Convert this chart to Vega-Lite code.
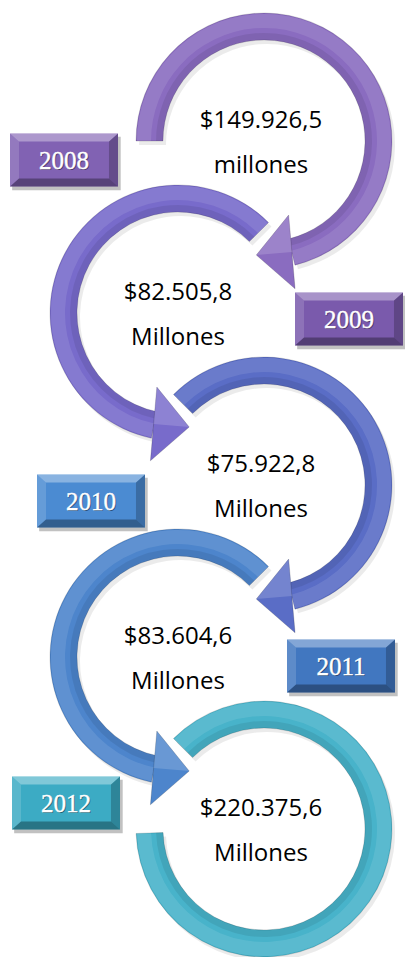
{
  "$schema": "https://vega.github.io/schema/vega-lite/v6.json",
  "width": 405,
  "height": 957,
  "padding": 0,
  "autosize": {"type": "none"},
  "background": "white",
  "config": {"view": {"stroke": null}},
  "datasets": {
    "anios": [
      {"anio": 2008, "monto": "$149.926,5", "unidad": "millones"},
      {"anio": 2009, "monto": "$82.505,8", "unidad": "Millones"},
      {"anio": 2010, "monto": "$75.922,8", "unidad": "Millones"},
      {"anio": 2011, "monto": "$83.604,6", "unidad": "Millones"},
      {"anio": 2012, "monto": "$220.375,6", "unidad": "Millones"}
    ]
  },
  "data": {"name": "anios"},
  "transform": [
    {"calculate": "datum.anio % 2", "as": "lado"},
    {"calculate": "datum.lado == 1 ? -168 * PI / 180 : (datum.anio == 2008 ? -PI / 2 : -PI / 4)", "as": "t0"},
    {"calculate": "datum.lado == 1 ? PI / 4 : (datum.anio == 2012 ? 268 * PI / 180 : 166 * PI / 180)", "as": "t1"}
  ],
  "layer": [
    {
      "mark": {"type": "arc", "radius": 128, "radius2": 101, "fill": "#000000", "opacity": 0.08},
      "encoding": {
        "x": {"field": "lado", "type": "quantitative", "scale": {"domain": [0, 1], "range": [267, 181], "zero": false, "nice": false}, "axis": null},
        "y": {"field": "anio", "type": "quantitative", "scale": {"domain": [2008, 2012], "range": [145, 833], "zero": false, "nice": false}, "axis": null},
        "theta": {"field": "t0", "type": "quantitative", "scale": null, "stack": null},
        "theta2": {"field": "t1"}
      }
    },
    {
      "mark": {"type": "arc", "radius": 128, "radius2": 101, "stroke": "rgba(0,0,0,0.18)", "strokeWidth": 0.8},
      "encoding": {
        "x": {"field": "lado", "type": "quantitative", "scale": {"domain": [0, 1], "range": [264, 178], "zero": false, "nice": false}, "axis": null},
        "y": {"field": "anio", "type": "quantitative", "scale": {"domain": [2008, 2012], "range": [141, 829], "zero": false, "nice": false}, "axis": null},
        "theta": {"field": "t0", "type": "quantitative", "scale": null, "stack": null},
        "theta2": {"field": "t1"},
        "color": {"field": "anio", "type": "nominal", "scale": {"domain": [2008, 2009, 2010, 2011, 2012], "range": ["#8a6cc0", "#786bcb", "#5a6dc6", "#4d85cc", "#48b3ca"]}, "legend": null}
      }
    },
    {
      "mark": {"type": "arc", "radius": 127, "radius2": 113, "fill": "#ffffff", "opacity": 0.1},
      "encoding": {
        "x": {"field": "lado", "type": "quantitative", "scale": {"domain": [0, 1], "range": [264, 178], "zero": false, "nice": false}, "axis": null},
        "y": {"field": "anio", "type": "quantitative", "scale": {"domain": [2008, 2012], "range": [141, 829], "zero": false, "nice": false}, "axis": null},
        "theta": {"field": "t0", "type": "quantitative", "scale": null, "stack": null},
        "theta2": {"field": "t1"}
      }
    },
    {
      "mark": {"type": "arc", "radius": 108, "radius2": 101, "fill": "#000000", "opacity": 0.08},
      "encoding": {
        "x": {"field": "lado", "type": "quantitative", "scale": {"domain": [0, 1], "range": [264, 178], "zero": false, "nice": false}, "axis": null},
        "y": {"field": "anio", "type": "quantitative", "scale": {"domain": [2008, 2012], "range": [141, 829], "zero": false, "nice": false}, "axis": null},
        "theta": {"field": "t0", "type": "quantitative", "scale": null, "stack": null},
        "theta2": {"field": "t1"}
      }
    },
    {
      "transform": [{"filter": "datum.anio < 2012"}],
      "mark": {"type": "point", "filled": true, "opacity": 1, "size": 5476, "shape": "M 0.643 0 L -0.322 -1 L -0.322 1 Z", "stroke": "rgba(0,0,0,0.2)", "strokeWidth": 0.8},
      "encoding": {
        "x": {"field": "lado", "type": "quantitative", "scale": {"domain": [0, 1], "range": [280, 165.5], "zero": false, "nice": false}, "axis": null},
        "y": {"field": "anio", "type": "quantitative", "scale": {"domain": [2008, 2012], "range": [253, 941], "zero": false, "nice": false}, "axis": null},
        "angle": {"field": "lado", "type": "quantitative", "scale": {"domain": [0, 1], "range": [175, 5]}, "legend": null},
        "color": {"field": "anio", "type": "nominal", "scale": {"domain": [2008, 2009, 2010, 2011, 2012], "range": ["#8a6cc0", "#786bcb", "#5a6dc6", "#4d85cc", "#48b3ca"]}, "legend": null}
      }
    },
    {
      "transform": [{"filter": "datum.anio < 2012"}],
      "mark": {"type": "point", "filled": true, "opacity": 0.16, "size": 5476, "color": "#ffffff", "strokeWidth": 0},
      "encoding": {
        "x": {"field": "lado", "type": "quantitative", "scale": {"domain": [0, 1], "range": [280, 165.5], "zero": false, "nice": false}, "axis": null},
        "y": {"field": "anio", "type": "quantitative", "scale": {"domain": [2008, 2012], "range": [253, 941], "zero": false, "nice": false}, "axis": null},
        "angle": {"field": "lado", "type": "quantitative", "scale": {"domain": [0, 1], "range": [175, 5]}, "legend": null},
        "shape": {"field": "lado", "type": "nominal", "scale": {"domain": [0, 1], "range": ["M 0.643 0 L -0.322 1 L -0.322 0 Z", "M 0.643 0 L -0.322 -1 L -0.322 0 Z"]}, "legend": null}
      }
    },
    {
      "mark": {"type": "point", "filled": true, "opacity": 0.3, "size": 11664, "color": "#333333", "strokeWidth": 0, "shape": "M -0.96 -0.43 L 1.05 -0.43 L 1.05 0.56 L -0.96 0.56 Z"},
      "encoding": {
        "x": {"field": "anio", "type": "quantitative", "scale": {"domain": [2008, 2009, 2010, 2011, 2012], "range": [64, 349, 91, 341, 66], "zero": false, "nice": false}, "axis": null},
        "y": {"field": "anio", "type": "quantitative", "scale": {"domain": [2008, 2009, 2010, 2011, 2012], "range": [160, 319, 501, 666, 803], "zero": false, "nice": false}, "axis": null}
      }
    },
    {
      "mark": {"type": "point", "filled": true, "opacity": 1, "size": 11664, "strokeWidth": 0, "shape": "M -1 -0.491 L 1 -0.491 L 1 0.491 L -1 0.491 Z"},
      "encoding": {
        "x": {"field": "anio", "type": "quantitative", "scale": {"domain": [2008, 2009, 2010, 2011, 2012], "range": [64, 349, 91, 341, 66], "zero": false, "nice": false}, "axis": null},
        "y": {"field": "anio", "type": "quantitative", "scale": {"domain": [2008, 2009, 2010, 2011, 2012], "range": [160, 319, 501, 666, 803], "zero": false, "nice": false}, "axis": null},
        "color": {"field": "anio", "type": "nominal", "scale": {"domain": [2008, 2009, 2010, 2011, 2012], "range": ["#8162b3", "#7a5aac", "#4b8bd2", "#4177c0", "#3cabc4"]}, "legend": null}
      }
    },
    {
      "mark": {"type": "point", "filled": true, "opacity": 0.35, "size": 11664, "color": "#ffffff", "strokeWidth": 0, "shape": "M -1 -0.491 L 1 -0.491 L 0.833 -0.343 L -0.833 -0.343 Z"},
      "encoding": {
        "x": {"field": "anio", "type": "quantitative", "scale": {"domain": [2008, 2009, 2010, 2011, 2012], "range": [64, 349, 91, 341, 66], "zero": false, "nice": false}, "axis": null},
        "y": {"field": "anio", "type": "quantitative", "scale": {"domain": [2008, 2009, 2010, 2011, 2012], "range": [160, 319, 501, 666, 803], "zero": false, "nice": false}, "axis": null}
      }
    },
    {
      "mark": {"type": "point", "filled": true, "opacity": 0.15, "size": 11664, "color": "#ffffff", "strokeWidth": 0, "shape": "M -1 -0.491 L -0.833 -0.343 L -0.833 0.343 L -1 0.491 Z"},
      "encoding": {
        "x": {"field": "anio", "type": "quantitative", "scale": {"domain": [2008, 2009, 2010, 2011, 2012], "range": [64, 349, 91, 341, 66], "zero": false, "nice": false}, "axis": null},
        "y": {"field": "anio", "type": "quantitative", "scale": {"domain": [2008, 2009, 2010, 2011, 2012], "range": [160, 319, 501, 666, 803], "zero": false, "nice": false}, "axis": null}
      }
    },
    {
      "mark": {"type": "point", "filled": true, "opacity": 0.32, "size": 11664, "color": "#000000", "strokeWidth": 0, "shape": "M -1 0.491 L 1 0.491 L 0.833 0.343 L -0.833 0.343 Z"},
      "encoding": {
        "x": {"field": "anio", "type": "quantitative", "scale": {"domain": [2008, 2009, 2010, 2011, 2012], "range": [64, 349, 91, 341, 66], "zero": false, "nice": false}, "axis": null},
        "y": {"field": "anio", "type": "quantitative", "scale": {"domain": [2008, 2009, 2010, 2011, 2012], "range": [160, 319, 501, 666, 803], "zero": false, "nice": false}, "axis": null}
      }
    },
    {
      "mark": {"type": "point", "filled": true, "opacity": 0.22, "size": 11664, "color": "#000000", "strokeWidth": 0, "shape": "M 1 -0.491 L 1 0.491 L 0.833 0.343 L 0.833 -0.343 Z"},
      "encoding": {
        "x": {"field": "anio", "type": "quantitative", "scale": {"domain": [2008, 2009, 2010, 2011, 2012], "range": [64, 349, 91, 341, 66], "zero": false, "nice": false}, "axis": null},
        "y": {"field": "anio", "type": "quantitative", "scale": {"domain": [2008, 2009, 2010, 2011, 2012], "range": [160, 319, 501, 666, 803], "zero": false, "nice": false}, "axis": null}
      }
    },
    {
      "mark": {"type": "text", "font": "Liberation Serif", "fontSize": 25, "color": "#000000", "opacity": 0.4, "baseline": "middle", "align": "center", "dx": 1, "dy": 2},
      "encoding": {
        "x": {"field": "anio", "type": "quantitative", "scale": {"domain": [2008, 2009, 2010, 2011, 2012], "range": [64, 349, 91, 341, 66], "zero": false, "nice": false}, "axis": null},
        "y": {"field": "anio", "type": "quantitative", "scale": {"domain": [2008, 2009, 2010, 2011, 2012], "range": [160, 319, 501, 666, 803], "zero": false, "nice": false}, "axis": null},
        "text": {"field": "anio", "type": "nominal"}
      }
    },
    {
      "mark": {"type": "text", "font": "Liberation Serif", "fontSize": 25, "color": "#ffffff", "baseline": "middle", "align": "center", "dy": 1, "stroke": "#ffffff", "strokeWidth": 0.4},
      "encoding": {
        "x": {"field": "anio", "type": "quantitative", "scale": {"domain": [2008, 2009, 2010, 2011, 2012], "range": [64, 349, 91, 341, 66], "zero": false, "nice": false}, "axis": null},
        "y": {"field": "anio", "type": "quantitative", "scale": {"domain": [2008, 2009, 2010, 2011, 2012], "range": [160, 319, 501, 666, 803], "zero": false, "nice": false}, "axis": null},
        "text": {"field": "anio", "type": "nominal"}
      }
    },
    {
      "mark": {"type": "text", "font": "Open Sans", "fontSize": 24, "color": "#000000", "baseline": "middle", "align": "center"},
      "encoding": {
        "x": {"field": "lado", "type": "quantitative", "scale": {"domain": [0, 1], "range": [261, 178], "zero": false, "nice": false}, "axis": null},
        "y": {"field": "anio", "type": "quantitative", "scale": {"domain": [2008, 2012], "range": [121, 809], "zero": false, "nice": false}, "axis": null},
        "text": {"field": "monto", "type": "nominal"}
      }
    },
    {
      "mark": {"type": "text", "font": "Open Sans", "fontSize": 24, "color": "#000000", "baseline": "middle", "align": "center"},
      "encoding": {
        "x": {"field": "lado", "type": "quantitative", "scale": {"domain": [0, 1], "range": [261, 178], "zero": false, "nice": false}, "axis": null},
        "y": {"field": "anio", "type": "quantitative", "scale": {"domain": [2008, 2012], "range": [166, 854], "zero": false, "nice": false}, "axis": null},
        "text": {"field": "unidad", "type": "nominal"}
      }
    }
  ],
  "resolve": {"scale": {"x": "independent", "y": "independent", "color": "independent", "shape": "independent", "angle": "independent", "theta": "independent"}}
}
